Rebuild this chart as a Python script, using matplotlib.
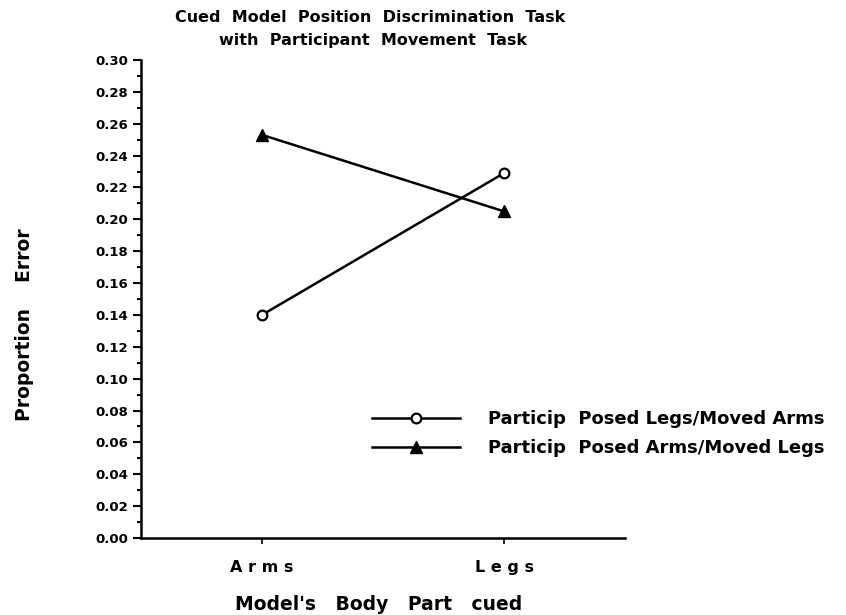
import matplotlib
matplotlib.use("Agg")
import matplotlib.pyplot as plt
from matplotlib.ticker import MultipleLocator, FormatStrFormatter

categories = ["Arms", "Legs"]
posed_legs_moved_arms = [0.140, 0.229]
posed_arms_moved_legs = [0.253, 0.205]
series_labels = ["Particip  Posed Legs/Moved Arms", "Particip  Posed Arms/Moved Legs"]

plt.rcParams['font.family'] = ['DejaVu Sans']
plt.rcParams['font.weight'] = 'bold'

fig = plt.figure(figsize=(8.46, 6.15), dpi=100)
W, H = 846, 615
ax = fig.add_axes([141 / W, (H - 538) / H, (625 - 141) / W, (538 - 60) / H])

x = list(range(len(categories)))
ax.plot(x, posed_legs_moved_arms, color='black', lw=1.8, marker='o', ms=7,
        mfc='white', mec='black', mew=1.6, label=series_labels[0])
ax.plot(x, posed_arms_moved_legs, color='black', lw=1.8, marker='^', ms=8,
        mfc='black', mec='black', label=series_labels[1])

ax.set_xlim(-0.5, 1.5)
ax.set_ylim(0, 0.30)
ax.set_xticks(x)
ax.set_xticklabels(["A r m s", "L e g s"], fontsize=11.5, fontweight='bold')
ax.yaxis.set_major_locator(MultipleLocator(0.02))
ax.yaxis.set_minor_locator(MultipleLocator(0.01))
ax.yaxis.set_major_formatter(FormatStrFormatter('%.2f'))
for lab in ax.get_yticklabels():
    lab.set_fontweight('bold')
    lab.set_fontsize(9.5)
ax.tick_params(axis='y', which='major', length=6, width=1.5, direction='out', pad=3)
ax.tick_params(axis='y', which='minor', length=3, width=1.5, direction='out')
ax.tick_params(axis='x', which='major', length=4, width=1.2, direction='out', pad=12)
for s in ['top', 'right']:
    ax.spines[s].set_visible(False)
for s in ['left', 'bottom']:
    ax.spines[s].set_linewidth(1.8)

fig.text(24 / W, 1 - 325 / H, "Proportion    Error", rotation=90,
         ha='center', va='center', fontsize=13.5, fontweight='bold')
fig.text(379 / W, 1 - 604 / H, "Model's   Body   Part   cued",
         ha='center', va='center', fontsize=13.5, fontweight='bold')

fig.text(370 / W, 1 - 18 / H, "Cued  Model  Position  Discrimination  Task",
         ha='center', va='center', fontsize=11.5, fontweight='bold')
fig.text(373 / W, 1 - 40 / H, "with  Participant  Movement  Task",
         ha='center', va='center', fontsize=11.5, fontweight='bold')

leg = ax.legend(loc='upper left', bbox_to_anchor=(372 / W, 1 - 410 / H),
                bbox_transform=fig.transFigure, frameon=False,
                prop={'weight': 'bold', 'size': 13},
                handlelength=4.9, handletextpad=1.5, labelspacing=0.6,
                borderaxespad=0, borderpad=0)

fig.savefig("out.png", dpi=100)
